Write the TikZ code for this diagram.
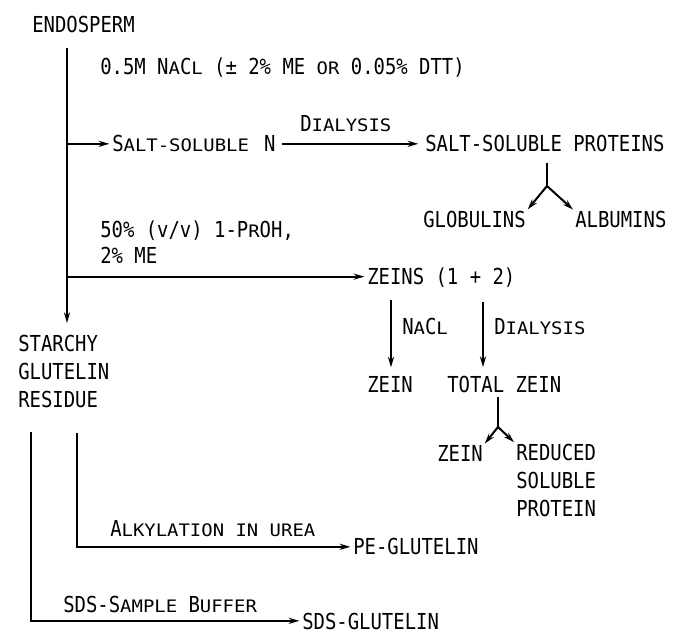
\documentclass[tikz,border=0pt]{standalone}
\usepackage{fontspec}
\setmainfont{DejaVu Sans Mono}[FakeStretch=0.86]
\newfontfamily\smcfont{DejaVu Sans Mono}[FakeStretch=1.1]
\usetikzlibrary{arrows.meta}
\newcommand{\smc}[1]{{\fontsize{12.9}{21}\smcfont #1}}
\tikzset{
  txt/.style={inner sep=0pt, font=\fontsize{16.5}{21}\selectfont},
  lbl/.style={txt, text depth=0pt, anchor=base west},
  stack/.style={txt, anchor=north west, align=left},
  flow/.style={-{Stealth[length=8pt,width=4.6pt]}, line width=1.5pt, shorten >=2pt},
  stem/.style={line width=1.5pt},
}

\begin{document}
\begin{tikzpicture}[x=0.75pt, y=-0.75pt]
    \useasboundingbox (0,0) rectangle (679,634);
    % extraction sequence
    \node[lbl] (endo) at (32,33) {ENDOSPERM};
    \node[lbl] (nacl) at (100,75) {0.5M N\smc{A}C\smc{L} (± 2\% ME \smc{OR} 0.05\% DTT)};
    \node[lbl] (saltn) at (112,152) {S\smc{ALT-SOLUBLE}\, N};
    \node[lbl] (dial) at (300,132) {D\smc{IALYSIS}};
    \node[lbl] (ssp) at (425,152) {SALT-SOLUBLE PROTEINS};
    \node[lbl] (glob) at (423,228) {GLOBULINS};
    \node[lbl] (alb) at (575,228) {ALBUMINS};
    \node[stack] (proh) at (100,221) {50\% (v/v) 1-P\smc{R}OH,\\[-1.5pt]2\% ME};
    \node[lbl] (zeins) at (367,285) {ZEINS (1 + 2)};
    \node[lbl] (nacllbl) at (402,335) {N\smc{A}C\smc{L}};
    \node[lbl] (diallbl) at (494,335) {D\smc{IALYSIS}};
    \node[lbl] (zein1) at (367,393) {ZEIN};
    \node[lbl] (totz) at (447,393) {TOTAL ZEIN};
    \node[lbl] (zein2) at (437,462) {ZEIN};
    \node[stack] (rsp) at (516,444) {REDUCED\\SOLUBLE\\PROTEIN};
    \node[stack] (starchy) at (18,335) {STARCHY\\GLUTELIN\\RESIDUE};
    \node[lbl] (alk) at (110,537) {A\smc{LKYLATION IN UREA}};
    \node[lbl] (peg) at (353,555) {PE-GLUTELIN};
    \node[lbl] (sdsb) at (63,613) {SDS-S\smc{AMPLE} B\smc{UFFER}};
    \node[lbl] (sdsg) at (302,629) {SDS-GLUTELIN};

    % main trunk
    \coordinate (trunkTop) at (67,48);
    \coordinate (trunkEnd) at (67,323);
    \draw[flow, shorten >=0pt] (trunkTop) -- (trunkEnd);
    \draw[flow] (trunkTop |- saltn.west) -- (saltn.west);
    \draw[flow] (trunkTop |- zeins.west) -- (zeins.west);
    \draw[flow, shorten <=5pt, shorten >=5pt] (saltn.east) -- (ssp.west);

    % salt-soluble split
    \coordinate (sspFork) at (547,186);
    \draw[stem, shorten <=8pt] (sspFork |- ssp.south) -- (sspFork);
    \draw[flow] (sspFork) -- (glob.north east);
    \draw[flow] (sspFork) -- (alb.north west);

    % zein fractions
    \coordinate (naclTop) at (391,300);
    \coordinate (dialTop) at (483,302);
    \draw[flow, shorten >=7pt] (naclTop) -- (naclTop |- zein1.north);
    \draw[flow, shorten >=7pt] (dialTop) -- (dialTop |- totz.north);
    \coordinate (tzFork) at (498,427);
    \draw[stem, shorten <=3pt] (tzFork |- totz.south) -- (tzFork);
    \draw[flow] (tzFork) -- (zein2.north east);
    \draw[flow] (tzFork) -- (rsp.north west);

    % glutelin residue
    \coordinate (peBranch) at (77,433);
    \coordinate (sdsBranch) at (31,432);
    \draw[flow] (peBranch) |- (peg.west);
    \draw[flow] (sdsBranch) |- (sdsg.west);
\end{tikzpicture}
\end{document}
